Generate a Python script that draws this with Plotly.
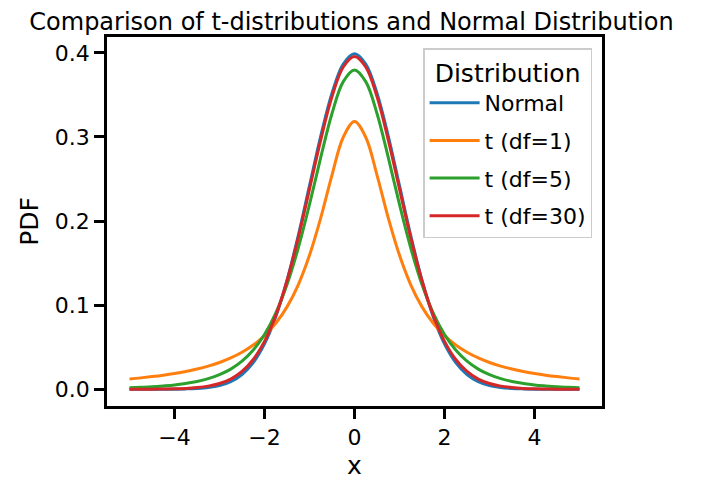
import plotly.graph_objects as go

# x grid and pdf values
x_vals = [-5.0, -4.75, -4.5, -4.25, -4.0, -3.75, -3.5, -3.25, -3.0, -2.75, -2.5, -2.25,
          -2.0, -1.75, -1.5, -1.25, -1.0, -0.75, -0.5, -0.25, 0.0,
          0.25, 0.5, 0.75, 1.0, 1.25, 1.5, 1.75, 2.0, 2.25, 2.5, 2.75,
          3.0, 3.25, 3.5, 3.75, 4.0, 4.25, 4.5, 4.75, 5.0]

normal_pdf = [0.0000, 0.0000, 0.0000, 0.0000, 0.0001, 0.0004, 0.0009, 0.0020, 0.0044, 0.0091, 0.0175, 0.0317,
              0.0540, 0.0863, 0.1295, 0.1826, 0.2420, 0.3011, 0.3521, 0.3867, 0.3989,
              0.3867, 0.3521, 0.3011, 0.2420, 0.1826, 0.1295, 0.0863, 0.0540, 0.0317, 0.0175, 0.0091,
              0.0044, 0.0020, 0.0009, 0.0004, 0.0001, 0.0000, 0.0000, 0.0000, 0.0000]

t1_pdf = [0.0122, 0.0135, 0.0150, 0.0167, 0.0187, 0.0211, 0.0240, 0.0275, 0.0318, 0.0372, 0.0439, 0.0525,
          0.0637, 0.0784, 0.0979, 0.1242, 0.1592, 0.2037, 0.2546, 0.2996, 0.3183,
          0.2996, 0.2546, 0.2037, 0.1592, 0.1242, 0.0979, 0.0784, 0.0637, 0.0525, 0.0439, 0.0372,
          0.0318, 0.0275, 0.0240, 0.0211, 0.0187, 0.0167, 0.0150, 0.0135, 0.0122]

t5_pdf = [0.0018, 0.0023, 0.0029, 0.0039, 0.0051, 0.0069, 0.0092, 0.0126, 0.0173, 0.0239, 0.0333, 0.0466,
          0.0651, 0.0905, 0.1245, 0.1679, 0.2197, 0.2757, 0.3279, 0.3657, 0.3796,
          0.3657, 0.3279, 0.2757, 0.2197, 0.1679, 0.1245, 0.0905, 0.0651, 0.0466, 0.0333, 0.0239,
          0.0173, 0.0126, 0.0092, 0.0069, 0.0051, 0.0039, 0.0029, 0.0023, 0.0018]

t30_pdf = [0.0000, 0.0001, 0.0001, 0.0003, 0.0005, 0.0010, 0.0020, 0.0037, 0.0068, 0.0121, 0.0211, 0.0353,
           0.0569, 0.0877, 0.1290, 0.1801, 0.2380, 0.2966, 0.3479, 0.3831, 0.3956,
           0.3831, 0.3479, 0.2966, 0.2380, 0.1801, 0.1290, 0.0877, 0.0569, 0.0353, 0.0211, 0.0121,
           0.0068, 0.0037, 0.0020, 0.0010, 0.0005, 0.0003, 0.0001, 0.0001, 0.0000]

names = ["Normal", "t (df=1)", "t (df=5)", "t (df=30)"]
series = [normal_pdf, t1_pdf, t5_pdf, t30_pdf]
colors = ["#1f77b4", "#ff7f0e", "#2ca02c", "#d62728"]

fig = go.Figure()
for name, y, c in zip(names, series, colors):
    # one legend group per trace so tracegroupgap spaces the rows out
    fig.add_trace(go.Scatter(x=x_vals, y=y, mode="lines", name=name, legendgroup=name,
                             line=dict(color=c, width=3, shape="spline")))

axis_common = dict(showgrid=False, zeroline=False, showline=True, linecolor="black",
                   linewidth=2.5, mirror=True, ticks="outside", ticklen=10, tickwidth=2.5,
                   tickcolor="black", tickfont=dict(size=22, color="black"))

fig.update_layout(
    width=701, height=485,
    margin=dict(l=99, r=107, t=29, b=87),
    paper_bgcolor="white", plot_bgcolor="white",
    font=dict(family="DejaVu Sans", color="black"),
    title=dict(text="Comparison of t-distributions and Normal Distribution",
               x=0.49, xanchor="center", y=0.972, yanchor="middle",
               font=dict(size=24, color="black")),
    xaxis=dict(range=[-5.5, 5.5], tickvals=[-4, -2, 0, 2, 4],
               title=dict(text="x", font=dict(size=25), standoff=8), **axis_common),
    yaxis=dict(range=[-0.01995, 0.4188], tickvals=[0.0, 0.1, 0.2, 0.3, 0.4], tickformat=".1f",
               title=dict(text="PDF", font=dict(size=25), standoff=10), **axis_common),
    legend=dict(x=0.98, y=0.97, xanchor="right", yanchor="top",
                bgcolor="rgba(255,255,255,0.8)", bordercolor="#cccccc", borderwidth=1.5,
                font=dict(size=22), itemwidth=50, tracegroupgap=6,
                title=dict(text="Distribution", side="top center", font=dict(size=25))),
)

fig.write_html("out.html")
